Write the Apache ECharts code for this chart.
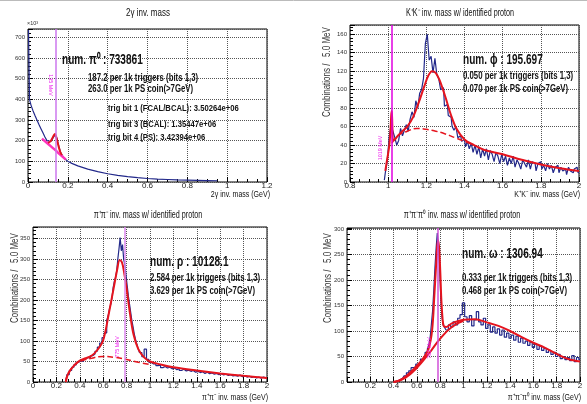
<!DOCTYPE html>
<html>
<head>
<meta charset="utf-8">
<script src="https://cdn.jsdelivr.net/npm/echarts@6/dist/echarts.min.js"></script>
<style>
  html, body { margin: 0; padding: 0; background: #fff; }
  #main { width: 587px; height: 404px; }
</style>
</head>
<body>
<div id="main"></div>
<script>
// 2 gamma inv. mass (counts in units of 10^3)
const p1Mass = [0.0025, 0.0075, 0.015, 0.025, 0.035, 0.045, 0.055, 0.065, 0.075, 0.085, 0.095, 0.105, 0.115, 0.125, 0.135, 0.145, 0.155, 0.165, 0.175, 0.185, 0.2, 0.22, 0.25, 0.3, 0.35, 0.4, 0.45, 0.5, 0.55, 0.6, 0.65, 0.7, 0.75, 0.8, 0.85, 0.9, 0.95];
const p1Counts = [735, 400, 372, 345, 322, 300, 278, 258, 238, 218, 200, 192, 196, 212, 228, 212, 172, 140, 124, 112, 100, 90, 78, 62, 50, 40, 32, 26, 21, 17, 14, 12, 10, 9, 8, 7, 6];
const p1FitMass = [0.1, 0.11, 0.12, 0.13, 0.135, 0.14, 0.15, 0.16, 0.17];
const p1Fit = [190, 194, 208, 226, 232, 224, 186, 150, 130];
const p1BkgMass = [0.07, 0.1, 0.13, 0.16, 0.19];
const p1Bkg = [210, 185, 160, 134, 108];

// K+K- inv. mass
const p2Mass = [0.98, 0.99, 1.00, 1.01, 1.02, 1.03, 1.04, 1.05, 1.06, 1.07, 1.08, 1.09, 1.10, 1.11, 1.12, 1.13, 1.14, 1.15, 1.16, 1.17, 1.18, 1.19, 1.20, 1.21, 1.22, 1.23, 1.24, 1.25, 1.26, 1.27, 1.28, 1.29, 1.30, 1.31, 1.32, 1.33, 1.34, 1.35, 1.36, 1.37, 1.38, 1.39, 1.40, 1.41, 1.42, 1.43, 1.44, 1.45, 1.46, 1.47, 1.48, 1.49, 1.50, 1.51, 1.52, 1.53, 1.54, 1.55, 1.56, 1.57, 1.58, 1.59, 1.60, 1.61, 1.62, 1.63, 1.64, 1.65, 1.66, 1.67, 1.68, 1.69, 1.70, 1.71, 1.72, 1.73, 1.74, 1.75, 1.76, 1.77, 1.78, 1.79, 1.80, 1.81, 1.82, 1.83, 1.84, 1.85, 1.86, 1.87, 1.88, 1.89, 1.90, 1.91, 1.92, 1.93, 1.94, 1.95, 1.96, 1.97, 1.98, 1.99, 2.00];
const p2Counts = [2, 10, 22, 48, 62, 55, 48, 40, 45, 58, 50, 56, 62, 55, 68, 76, 70, 88, 80, 96, 100, 112, 150, 160, 132, 136, 118, 134, 116, 112, 100, 102, 82, 84, 72, 70, 60, 56, 60, 48, 50, 44, 46, 38, 44, 36, 42, 32, 40, 30, 38, 26, 36, 28, 36, 24, 34, 30, 22, 32, 28, 20, 30, 22, 28, 18, 26, 20, 28, 16, 24, 20, 14, 24, 20, 16, 24, 14, 22, 20, 12, 20, 22, 14, 18, 12, 20, 14, 18, 10, 16, 18, 10, 16, 12, 14, 8, 16, 12, 10, 14, 16, 10];
const p2FitMass = [0.985, 0.995, 1.005, 1.012, 1.016, 1.019, 1.022, 1.026, 1.035, 1.05, 1.08, 1.1, 1.13, 1.16, 1.19, 1.21, 1.23, 1.25, 1.27, 1.3, 1.33, 1.36, 1.4, 1.45, 1.5, 1.6, 1.7, 1.8, 1.9, 2.0];
const p2Fit = [12, 25, 38, 55, 72, 77, 60, 45, 46, 50, 56, 60, 70, 86, 104, 115, 120, 118, 110, 92, 72, 57, 46, 40, 35, 30, 24, 19, 15, 12];
const p2BkgMass = [1.02, 1.05, 1.1, 1.15, 1.2, 1.25, 1.3, 1.35, 1.4, 1.45];
const p2Bkg = [42, 50, 55, 58, 57, 55, 52, 48, 44, 40];

// pi+pi- inv. mass
const p3Mass = [0.28, 0.30, 0.32, 0.34, 0.36, 0.38, 0.40, 0.42, 0.44, 0.46, 0.48, 0.50, 0.52, 0.54, 0.56, 0.58, 0.60, 0.62, 0.64, 0.65, 0.66, 0.67, 0.68, 0.69, 0.70, 0.71, 0.72, 0.73, 0.74, 0.75, 0.76, 0.77, 0.78, 0.79, 0.80, 0.81, 0.82, 0.83, 0.84, 0.85, 0.86, 0.87, 0.88, 0.89, 0.90, 0.92, 0.94, 0.96, 0.98, 1.00, 1.02, 1.04, 1.06, 1.08, 1.10, 1.12, 1.14, 1.16, 1.18, 1.20, 1.22, 1.24, 1.26, 1.28, 1.30, 1.32, 1.34, 1.36, 1.38, 1.40, 1.42, 1.44, 1.46, 1.48, 1.50, 1.52, 1.54, 1.56, 1.58, 1.60, 1.62, 1.64, 1.66, 1.68, 1.70, 1.72, 1.74, 1.76, 1.78, 1.80, 1.82, 1.84, 1.86, 1.88, 1.90, 1.92, 1.94, 1.96, 1.98, 2.00];
const p3Counts = [2, 18, 28, 36, 42, 48, 52, 50, 56, 60, 58, 64, 68, 75, 85, 95, 108, 120, 150, 165, 180, 190, 205, 230, 245, 255, 270, 300, 325, 352, 320, 335, 300, 285, 260, 235, 210, 190, 170, 150, 135, 118, 105, 95, 85, 72, 62, 80, 55, 48, 44, 45, 40, 42, 35, 38, 34, 36, 32, 34, 30, 33, 28, 31, 27, 29, 26, 28, 24, 26, 23, 25, 21, 24, 20, 22, 19, 21, 18, 20, 17, 19, 16, 18, 15, 16, 14, 17, 13, 15, 12, 14, 11, 13, 10, 12, 9, 12, 10, 11];
const p3FitMass = [0.28, 0.3, 0.35, 0.4, 0.45, 0.5, 0.55, 0.6, 0.65, 0.7, 0.72, 0.74, 0.76, 0.78, 0.8, 0.83, 0.86, 0.9, 0.95, 1.0, 1.1, 1.2, 1.4, 1.6, 1.8, 2.0];
const p3Fit = [0, 20, 40, 52, 58, 64, 78, 102, 170, 245, 275, 297, 292, 265, 228, 165, 115, 80, 60, 50, 42, 36, 28, 21, 15, 10];
const p3BkgMass = [0.28, 0.3, 0.35, 0.4, 0.5, 0.6, 0.7, 0.8, 0.9, 1.0];
const p3Bkg = [0, 20, 40, 50, 58, 62, 60, 55, 48, 43];

// pi+pi-pi0 inv. mass
const p4Mass = [0.40, 0.42, 0.44, 0.46, 0.48, 0.50, 0.52, 0.54, 0.56, 0.58, 0.60, 0.62, 0.64, 0.66, 0.68, 0.70, 0.71, 0.72, 0.73, 0.74, 0.75, 0.76, 0.77, 0.78, 0.79, 0.80, 0.81, 0.82, 0.83, 0.84, 0.86, 0.88, 0.90, 0.92, 0.94, 0.96, 0.98, 1.00, 1.02, 1.04, 1.06, 1.08, 1.10, 1.12, 1.14, 1.16, 1.18, 1.20, 1.22, 1.24, 1.26, 1.28, 1.30, 1.32, 1.34, 1.36, 1.38, 1.40, 1.42, 1.44, 1.46, 1.48, 1.50, 1.52, 1.54, 1.56, 1.58, 1.60, 1.62, 1.64, 1.66, 1.68, 1.70, 1.72, 1.74, 1.76, 1.78, 1.80, 1.82, 1.84, 1.86, 1.88, 1.90, 1.92, 1.94, 1.96, 1.98, 2.00];
const p4Counts = [0, 1, 3, 5, 8, 12, 18, 22, 28, 30, 35, 38, 45, 48, 58, 65, 75, 90, 115, 140, 180, 225, 262, 292, 270, 225, 165, 128, 112, 108, 102, 112, 108, 118, 112, 125, 132, 155, 128, 118, 130, 110, 122, 138, 118, 112, 125, 105, 112, 98, 108, 96, 104, 92, 102, 88, 96, 86, 92, 82, 90, 78, 86, 76, 80, 72, 78, 68, 74, 64, 70, 62, 66, 58, 62, 54, 58, 50, 54, 46, 50, 44, 48, 42, 52, 40, 48, 44];
const p4FitMass = [0.4, 0.45, 0.5, 0.55, 0.6, 0.65, 0.7, 0.73, 0.75, 0.765, 0.78, 0.79, 0.8, 0.81, 0.82, 0.83, 0.85, 0.9, 1.0, 1.1, 1.2, 1.3, 1.4, 1.5, 1.6, 1.7, 1.8, 1.9, 2.0];
const p4Fit = [0, 3, 10, 20, 32, 45, 65, 100, 170, 230, 278, 265, 220, 160, 125, 110, 108, 115, 122, 123, 117, 110, 100, 88, 77, 67, 55, 45, 40];
const p4BkgMass = [0.4, 0.5, 0.6, 0.7, 0.8, 0.9, 1.0];
const p4Bkg = [0, 8, 28, 55, 85, 108, 120];

// nominal masses (vertical markers)
const peakMass = [0.135, 1.019, 0.775, 0.782];
const peakLabel = ['135 MeV', '1019 MeV', '775 MeV', '782 MeV'];

const titles = ['2\u03b3 inv. mass', 'K\u207aK\u207b inv. mass w/ identified proton', '\u03c0\u207a\u03c0\u207b inv. mass w/ identified proton', '\u03c0\u207a\u03c0\u207b\u03c0\u2070 inv. mass w/ identified proton'];
const xNames = ['2\u03b3 inv. mass (GeV)', 'K\u207aK\u207b inv. mass (GeV)', '\u03c0\u207a\u03c0\u207b inv. mass (GeV)', '\u03c0\u207a\u03c0\u207b\u03c0\u2070 inv. mass (GeV)'];

const zip = (xs, ys) => xs.map((x, i) => [x, ys[i]]);

const FONT = '"Liberation Sans", Arial, sans-serif';
const BLUE = '#22288a';
const RED = '#e5141e';

// plot frames (pixels)
const frames = [
  {left: 28, top: 29, width: 239, height: 153},
  {left: 350, top: 25, width: 229, height: 157},
  {left: 33, top: 227, width: 234, height: 155},
  {left: 347, top: 228, width: 233, height: 154}
];

function txt(text, x, y, size, o) {
  o = o || {};
  return {
    type: 'text', x: x, y: y, rotation: o.rot || 0, scaleX: o.sx || 0.75, z: 100,
    style: {
      text: text, font: (o.bold ? 'bold ' : '') + size + 'px ' + FONT,
      fill: o.color || '#111',
      textAlign: o.align || 'left', align: o.align || 'left',
      textVerticalAlign: 'middle', verticalAlign: 'middle'
    }
  };
}

function xAx(i, min, max, hideMin) {
  return {
    type: 'value', gridIndex: i, min: min, max: max, interval: 0.2,
    axisLine: {show: false},
    axisTick: {inside: true, length: 5, lineStyle: {color: '#000'}},
    minorTick: {show: true, splitNumber: 4, length: 3, lineStyle: {color: '#000'}},
    splitLine: {show: true, lineStyle: {type: 'dotted', color: '#555'}},
    axisLabel: {fontSize: 8, fontFamily: FONT, color: '#222', margin: 0, showMinLabel: !hideMin,
      formatter: v => String(+v.toFixed(1))}
  };
}
function yAx(i, max, step) {
  return {
    type: 'value', gridIndex: i, min: 0, max: max, interval: step,
    axisLine: {show: false},
    axisTick: {inside: true, length: 5, lineStyle: {color: '#000'}},
    minorTick: {show: true, splitNumber: 5, length: 3, lineStyle: {color: '#000'}},
    splitLine: {show: true, lineStyle: {type: 'dotted', color: '#555'}},
    axisLabel: {fontSize: 6, fontFamily: FONT, color: '#333', margin: 3, showMaxLabel: false}
  };
}

const hist = [zip(p1Mass, p1Counts), zip(p2Mass, p2Counts), zip(p3Mass, p3Counts), zip(p4Mass, p4Counts)];
const fits = [zip(p1FitMass, p1Fit), zip(p2FitMass, p2Fit), zip(p3FitMass, p3Fit), zip(p4FitMass, p4Fit)];
const bkgs = [zip(p1BkgMass, p1Bkg), zip(p2BkgMass, p2Bkg), zip(p3BkgMass, p3Bkg), zip(p4BkgMass, p4Bkg)];
const markColors = ['#cc77ee', '#e000e0', '#dd88ee', '#d050d8'];
const bkgStyles = [
  {color: '#ff33bb', width: 2.5, type: 'solid'},
  {color: RED, width: 1.5, type: 'dashed'},
  {color: RED, width: 1.5, type: 'dashed'},
  {color: RED, width: 2, type: 'solid'}
];

const series = [];
for (let i = 0; i < 4; i++) {
  series.push({
    type: 'line', xAxisIndex: i, yAxisIndex: i, data: hist[i], showSymbol: false,
    step: i === 0 ? false : 'middle', lineStyle: {color: BLUE, width: 1.2}, z: 2,
    markLine: {
      silent: true, symbol: 'none', label: {show: false},
      lineStyle: {color: markColors[i], width: 1.5, type: 'solid'},
      data: [{xAxis: peakMass[i]}]
    }
  });
  series.push({
    type: 'line', xAxisIndex: i, yAxisIndex: i, data: bkgs[i], showSymbol: false,
    smooth: true, lineStyle: bkgStyles[i], z: 3
  });
  series.push({
    type: 'line', xAxisIndex: i, yAxisIndex: i, data: fits[i], showSymbol: false,
    smooth: 0.35, lineStyle: {color: RED, width: 2}, z: 4
  });
}

const graphic = [
  {type: 'line', shape: {x1: 0, y1: 0.5, x2: 587, y2: 0.5}, style: {stroke: '#bbb', lineWidth: 1}},
  txt(titles[0], 148, 13, 10, {align: 'center', sx: 0.8}),
  txt(titles[1], 460, 13, 10, {align: 'center', sx: 0.72}),
  txt(titles[2], 148, 215, 10, {align: 'center', sx: 0.72}),
  txt(titles[3], 462, 215, 10, {align: 'center', sx: 0.72}),
  txt(xNames[0], 270, 195, 9, {align: 'right', sx: 0.78}),
  txt(xNames[1], 580, 195, 9, {align: 'right', sx: 0.78}),
  txt(xNames[2], 268, 398, 9, {align: 'right', sx: 0.78}),
  txt(xNames[3], 581, 398, 9, {align: 'right', sx: 0.78}),
  txt('Combinations /   5.0 MeV', 327, 72, 10, {align: 'center', rot: Math.PI / 2, sx: 0.8, color: '#333'}),
  txt('Combinations /   5.0 MeV', 15, 278, 10, {align: 'center', rot: Math.PI / 2, sx: 0.8, color: '#333'}),
  txt('Combinations /   5.0 MeV', 328, 278, 10, {align: 'center', rot: Math.PI / 2, sx: 0.8, color: '#333'}),
  txt('\u00d710\u00b3', 27, 23, 6, {color: '#333', sx: 0.9}),
  // panel 1 annotations
  txt('num. \u03c0\u2070 : 733861', 62, 60, 14, {bold: true, sx: 0.72}),
  txt('187.2 per 1k triggers (bits 1,3)', 88, 78, 10, {bold: true, sx: 0.78}),
  txt('263.0 per 1k PS coin(>7GeV)', 88, 89, 10, {bold: true, sx: 0.78}),
  txt('trig bit 1 (FCAL/BCAL): 3.50264e+06', 108, 109, 9, {bold: true, sx: 0.85}),
  txt('trig bit 3 (BCAL): 1.35447e+06', 108, 125, 9, {bold: true, sx: 0.85}),
  txt('trig bit 4 (PS): 3.42394e+06', 108, 138, 9, {bold: true, sx: 0.85}),
  // panel 2 annotations
  txt('num. \u03d5 : 195.697', 463, 60, 14, {bold: true, sx: 0.72}),
  txt('0.050 per 1k triggers (bits 1,3)', 463, 76, 10, {bold: true, sx: 0.78}),
  txt('0.070 per 1k PS coin(>7GeV)', 463, 89, 10, {bold: true, sx: 0.78}),
  // panel 3 annotations
  txt('num. \u03c1 : 10128.1', 150, 262, 14, {bold: true, sx: 0.72}),
  txt('2.584 per 1k triggers (bits 1,3)', 150, 278, 10, {bold: true, sx: 0.78}),
  txt('3.629 per 1k PS coin(>7GeV)', 150, 291, 10, {bold: true, sx: 0.78}),
  // panel 4 annotations
  txt('num. \u03c9 : 1306.94', 462, 254, 14, {bold: true, sx: 0.72}),
  txt('0.333 per 1k triggers (bits 1,3)', 462, 278, 10, {bold: true, sx: 0.78}),
  txt('0.468 per 1k PS coin(>7GeV)', 462, 291, 10, {bold: true, sx: 0.78}),
  // marker labels
  txt(peakLabel[0], 51, 85, 6, {align: 'center', rot: -Math.PI / 2, sx: 0.9, color: '#ee22ee'}),
  txt(peakLabel[1], 380, 148, 6, {align: 'center', rot: Math.PI / 2, sx: 0.9, color: '#ee22ee'}),
  txt(peakLabel[2], 117, 347, 6, {align: 'center', rot: Math.PI / 2, sx: 0.9, color: '#ee22ee'}),
  txt(peakLabel[3], 429, 348, 6, {align: 'center', rot: Math.PI / 2, sx: 0.9, color: '#ee22ee'})
];

const chart = echarts.init(document.getElementById('main'), null, {renderer: 'canvas'});
chart.setOption({
  backgroundColor: '#fff',
  animation: false,
  grid: frames.map(f => Object.assign({show: true, borderColor: '#000', borderWidth: 1, backgroundColor: '#fff'}, f)),
  xAxis: [xAx(0, 0, 1.2), xAx(1, 0.8, 2), xAx(2, 0, 2), xAx(3, 0, 2, true)],
  yAxis: [yAx(0, 740, 100), yAx(1, 170, 20), yAx(2, 378, 50), yAx(3, 302, 50)],
  series: series,
  graphic: graphic
});
</script>
</body>
</html>
